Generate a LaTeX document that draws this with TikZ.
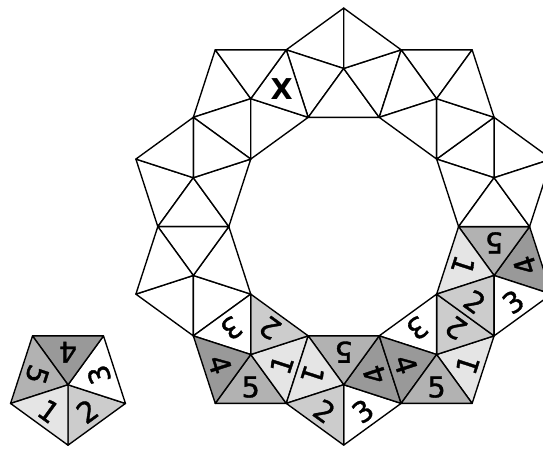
\documentclass[tikz,border=0pt]{standalone}
\usepackage{fontspec}
\setmainfont{DejaVu Sans}
\newfontfamily\numfont[FakeBold=1.2]{DejaVu Sans}

% shades of the five numbers, 0 = blank
\colorlet{t0}{white}
\colorlet{t1}{black!10}
\colorlet{t2}{black!20}
\colorlet{t3}{white}
\colorlet{t4}{black!40}
\colorlet{t5}{black!30}

\def\R{0.85065}  % pentagon corner radius (side 1)
\def\D{2.2270}   % ring centre to pentagon centre
\def\C{0.4588}   % pentagon centre to triangle centroid

% pentagon: centre, angle of first corner, numbers of the five triangles, name
\newcommand{\pent}[4]{%
  \begin{scope}[shift={#1}]
    \foreach \n [count=\j from 0] in {#3} {
      \pgfmathsetmacro{\aa}{#2+72*\j}
      \filldraw[fill=t\n] (0,0) -- (\aa:\R) -- (\aa+72:\R) -- cycle;
      \node[num, rotate=\aa+126] (#4-\j) at (\aa+36:\C) {\ifnum\n=0 \else\n\fi};
    }
  \end{scope}
}

\begin{document}
\begin{tikzpicture}[line width=0.55pt, line join=round,
    num/.style={font=\numfont\fontsize{11.5}{11.5}\selectfont, inner sep=0pt}]

\useasboundingbox (-4.8408,-3.1324) rectangle (2.8070,3.1915);

% Ring of ten pentagons round a decagon
\pent{(90:\D)}{90}{0,0,0,0,0}{p0}
\pent{(126:\D)}{126}{0,0,0,0,0}{p1}
\pent{(162:\D)}{162}{0,0,0,0,0}{p2}
\pent{(198:\D)}{198}{0,0,0,0,0}{p3}
\pent{(234:\D)}{234}{5,1,2,3,4}{p4}
\pent{(270:\D)}{270}{3,4,5,1,2}{p5}
\pent{(306:\D)}{306}{1,2,3,4,5}{p6}
\pent{(342:\D)}{342}{4,5,1,2,3}{p7}
\pent{(18:\D)}{18}{0,0,0,0,0}{p8}
\pent{(54:\D)}{54}{0,0,0,0,0}{p9}

% the marked triangle
\node[inner sep=0pt, font=\fontsize{11.5}{11.5}\selectfont\bfseries] (mark) at (p1-3) {X};

% Single pentagon
\pent{(-3.883,-2.228)}{270}{2,3,4,5,1}{s}

\end{tikzpicture}
\end{document}
